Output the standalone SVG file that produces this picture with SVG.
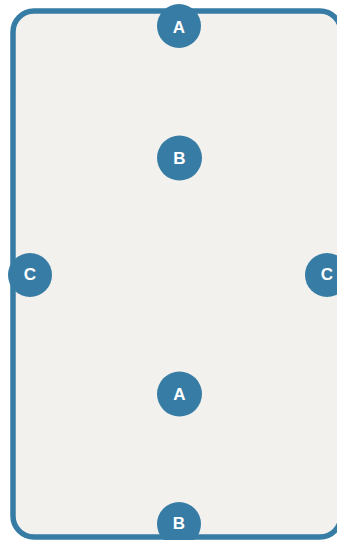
<svg xmlns="http://www.w3.org/2000/svg" width="337" height="540" viewBox="0 0 337 540">
<style>
.badge{fill:#377ca5}
.lbl{fill:#ffffff;font-family:"Liberation Sans",Arial,sans-serif;font-weight:bold;font-size:17px;text-anchor:middle;dominant-baseline:central}
</style>
<rect width="337" height="540" fill="#ffffff"/>
<g id="frame">
<rect x="13" y="11" width="328" height="526" rx="21" ry="21" fill="#f2f1ee" stroke="#377ca5" stroke-width="5.5"/>
</g>
<g id="connectors"></g>
<g id="nodeA1"><circle class="badge" cx="179" cy="26" r="22"/><text class="lbl" x="179" y="27">A</text></g>
<g id="nodeB1"><circle class="badge" cx="179.5" cy="158" r="22.5"/><text class="lbl" x="179.5" y="158">B</text></g>
<g id="nodeC1"><circle class="badge" cx="30" cy="275" r="22"/><text class="lbl" x="30" y="274">C</text></g>
<g id="nodeC2"><circle class="badge" cx="327" cy="275" r="22"/><text class="lbl" x="327" y="274">C</text></g>
<g id="nodeA2"><circle class="badge" cx="179.5" cy="394" r="22.5"/><text class="lbl" x="179.5" y="394">A</text></g>
<g id="nodeB2"><circle class="badge" cx="179" cy="524" r="22"/><text class="lbl" x="179" y="523">B</text></g>
</svg>
